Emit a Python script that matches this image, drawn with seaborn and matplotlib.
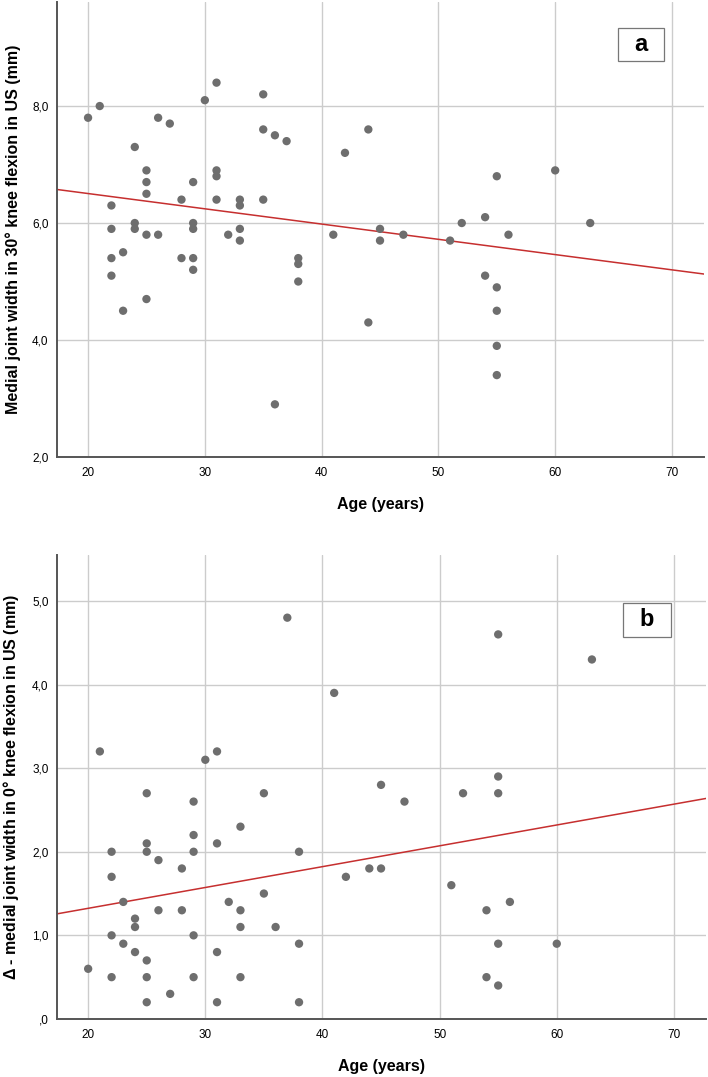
# Medial joint width vs age - two scatter panels with linear fit (a, b)

import pandas as pd
import matplotlib
matplotlib.use('Agg')
import matplotlib.pyplot as plt
import matplotlib.ticker as ticker
from matplotlib.patches import Rectangle
import seaborn as sns

# ── Data ──────────────────────────────────────────────────────────────────────
age_a = [20, 21, 22, 22, 22, 22, 23, 23, 24, 24, 24, 25, 25, 25, 25, 25,
         26, 26, 27, 28, 28, 29, 29, 29, 29, 29, 30, 31, 31, 31, 31, 32,
         33, 33, 33, 33, 35, 35, 35, 36, 36, 37, 38, 38, 38, 41, 42, 44,
         44, 45, 45, 47, 51, 52, 54, 54, 55, 55, 55, 55, 55, 56, 60, 63]
width_30 = [7.8, 8.0, 6.3, 5.9, 5.4, 5.1, 5.5, 4.5, 7.3, 6.0, 5.9, 6.9, 6.7, 6.5, 5.8, 4.7,
            7.8, 5.8, 7.7, 6.4, 5.4, 6.7, 6.0, 5.9, 5.4, 5.2, 8.1, 8.4, 6.9, 6.8, 6.4, 5.8,
            6.4, 6.3, 5.9, 5.7, 8.2, 7.6, 6.4, 7.5, 2.9, 7.4, 5.4, 5.3, 5.0, 5.8, 7.2, 7.6,
            4.3, 5.9, 5.7, 5.8, 5.7, 6.0, 6.1, 5.1, 6.8, 4.9, 4.5, 3.9, 3.4, 5.8, 6.9, 6.0]

age_b = [20, 21, 22, 22, 22, 22, 23, 23, 24, 24, 24, 25, 25, 25, 25, 25, 25,
         26, 26, 27, 28, 28, 29, 29, 29, 29, 29, 30, 31, 31, 31, 31, 32,
         33, 33, 33, 33, 35, 35, 36, 37, 38, 38, 38, 41, 42, 44, 45, 45,
         47, 51, 52, 54, 54, 55, 55, 55, 55, 55, 56, 60, 63]
delta_0 = [0.6, 3.2, 2.0, 1.7, 1.0, 0.5, 1.4, 0.9, 1.2, 1.1, 0.8, 2.7, 2.1, 2.0, 0.7, 0.5, 0.2,
           1.9, 1.3, 0.3, 1.8, 1.3, 2.6, 2.2, 2.0, 1.0, 0.5, 3.1, 3.2, 2.1, 0.8, 0.2, 1.4,
           2.3, 1.3, 1.1, 0.5, 2.7, 1.5, 1.1, 4.8, 2.0, 0.9, 0.2, 3.9, 1.7, 1.8, 2.8, 1.8,
           2.6, 1.6, 2.7, 1.3, 0.5, 4.6, 2.9, 2.7, 0.9, 0.4, 1.4, 0.9, 4.3]

x_ticks = [20, 30, 40, 50, 60, 70]
y_ticks_a = [2, 4, 6, 8]
y_ticks_b = [0, 1, 2, 3, 4, 5]

df_a = pd.DataFrame({'Age': age_a, 'Width': width_30})
df_b = pd.DataFrame({'Age': age_b, 'Delta': delta_0})

# ── Style ─────────────────────────────────────────────────────────────────────
sns.set_theme(style="whitegrid")
plt.rcParams['font.family'] = ['Liberation Sans', 'DejaVu Sans']
plt.rcParams.update({
    'grid.color': '#cccccc',
    'grid.linewidth': 1.0,
    'axes.edgecolor': '#555555',
    'axes.linewidth': 1.4,
    'axes.labelcolor': 'black',
    'text.color': 'black',
    'xtick.major.size': 0,
    'ytick.major.size': 0,
    'xtick.major.pad': 7,
    'ytick.major.pad': 6,
    'xtick.color': 'black',
    'ytick.color': 'black',
    'mathtext.fontset': 'custom',
    'mathtext.it': 'Liberation Sans:italic:bold',
    'mathtext.rm': 'Liberation Sans:bold',
})

DOT = '#6e6e6e'
LINE = '#c62f2f'


def comma_fmt(v, _):
    s = f'{v:.1f}'.replace('.', ',')
    return s[1:] if s.startswith('0') else s


fig = plt.figure(figsize=(7.08, 10.77), dpi=100)
ax_a = fig.add_axes([0.0805, 0.5757, 0.9138, 0.4225])
ax_b = fig.add_axes([0.0805, 0.0539, 0.9167, 0.4308])

# axes, frame, column, ylim, yticks, ylabel, tag, tag box (x, y, w, h), tag centre
panels = [
    (ax_a, df_a, 'Width', (2.0, 9.78), y_ticks_a,
     'Medial joint width in 30° knee flexion in US (mm)', 'a',
     (0.867, 0.870, 0.0711, 0.0725), (0.9026, 0.906)),
    (ax_b, df_b, 'Delta', (0.0, 5.55), y_ticks_b,
     r'$\mathit{\Delta}$ - medial joint width in 0° knee flexion in US (mm)', 'b',
     (0.872, 0.8233, 0.074, 0.0733), (0.909, 0.860)),
]

for ax, df, col, ylim, yt, ylab, tag, box, tagpos in panels:
    ax.set_xlim(17.34, 72.74)
    ax.set_ylim(*ylim)
    ax.set_xticks(x_ticks)
    ax.set_yticks(yt)
    ax.set_axisbelow(True)

    sns.scatterplot(data=df, x='Age', y=col, ax=ax, color=DOT, s=36,
                    edgecolor='none', zorder=3)
    sns.regplot(data=df, x='Age', y=col, ax=ax, scatter=False, ci=None,
                truncate=False, color=LINE, line_kws={'linewidth': 1.1})

    ax.set_xlim(17.34, 72.74)
    ax.set_ylim(*ylim)
    ax.yaxis.set_major_formatter(ticker.FuncFormatter(comma_fmt))
    ax.tick_params(labelsize=8.5)

    for side in ['top', 'right']:
        ax.spines[side].set_visible(False)

    ax.set_xlabel('Age (years)', fontsize=11.5, fontweight='bold', labelpad=13)
    ax.set_ylabel(ylab, fontsize=11.5, fontweight='bold', labelpad=8)

    ax.add_patch(Rectangle(box[:2], box[2], box[3], transform=ax.transAxes,
                           facecolor='white', edgecolor='#777777',
                           linewidth=0.9, zorder=5))
    ax.text(*tagpos, tag, transform=ax.transAxes, ha='center', va='center',
            fontsize=17, fontweight='bold', zorder=6)

plt.savefig('out.png', dpi=100)
